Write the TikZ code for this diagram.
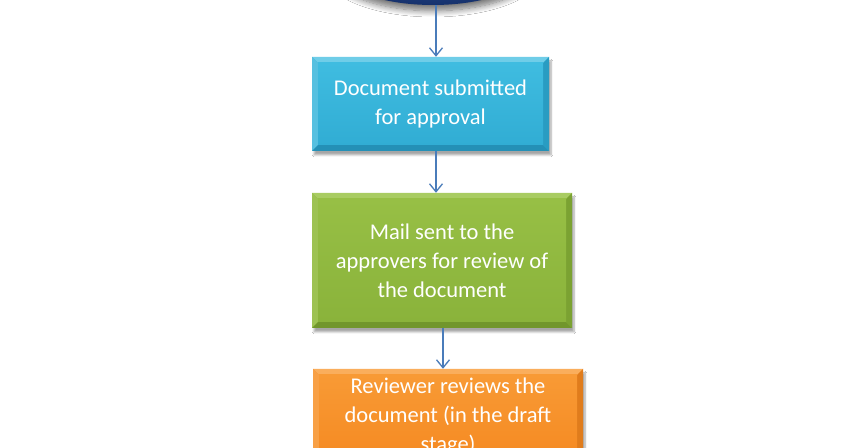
\documentclass[tikz,border=0pt]{standalone}
\usepackage{fontspec}
\setmainfont{Carlito}
\usetikzlibrary{arrows.meta,shadows.blur,calc,shapes.geometric}
\definecolor{cyanlight}{HTML}{6FCDE8}
\definecolor{cyanbase}{HTML}{31ADD4}
\definecolor{cyantop}{HTML}{3FBCE0}
\definecolor{cyandark}{HTML}{2490B6}
\definecolor{greenlight}{HTML}{A9CC62}
\definecolor{greenbase}{HTML}{8AB33B}
\definecolor{greentop}{HTML}{97BF45}
\definecolor{greendark}{HTML}{71962C}
\definecolor{orangelight}{HTML}{FAAE5C}
\definecolor{orangebase}{HTML}{F58A22}
\definecolor{orangetop}{HTML}{F89A35}
\definecolor{orangedark}{HTML}{D27318}
\definecolor{navy}{HTML}{16316C}
\definecolor{navyin}{HTML}{2B56A0}
\definecolor{arrowblue}{HTML}{4A7CBA}
\tikzset{
  bevelbox/.style n args={4}{
    rectangle, inner sep=0pt, fill=#2,
    blur shadow={shadow xshift=2pt, shadow yshift=-4pt, shadow blur steps=6, shadow opacity=35},
    path picture={
      \coordinate (pnw) at (path picture bounding box.north west);
      \coordinate (pne) at (path picture bounding box.north east);
      \coordinate (psw) at (path picture bounding box.south west);
      \coordinate (pse) at (path picture bounding box.south east);
      \fill[#1] (pnw) -- (pne) -- ($(pne)+(-6,-6)$) -- ($(pnw)+(6,-6)$) -- cycle;
      \fill[#1!60!#2] (pnw) -- ($(pnw)+(6,-6)$) -- ($(psw)+(6,6)$) -- (psw) -- cycle;
      \fill[#3] (psw) -- ($(psw)+(6,6)$) -- ($(pse)+(-6,6)$) -- (pse) -- cycle;
      \fill[#3!60!#2] (pse) -- ($(pse)+(-6,6)$) -- ($(pne)+(-6,-6)$) -- (pne) -- cycle;
      \shade[top color=#4, bottom color=#2] ($(pnw)+(6,-6)$) rectangle ($(pse)+(-6,6)$);
    },
    text=white, align=center, font=\fontsize{22.5}{29}\selectfont
  },
  arr/.style={draw=arrowblue, line width=1.3pt, -{Straight Barb[length=8pt,width=13pt,line width=1.3pt]}}
}
\begin{document}
\begin{tikzpicture}[x=1pt,y=1pt]
\useasboundingbox (0,0) rectangle (851,447);
\fill[white] (0,0) rectangle (851,447);
\node[ellipse, minimum width=200, minimum height=80, inner color=navyin, outer color=navy,
      blur shadow={shadow xshift=0pt, shadow yshift=-4pt, shadow scale=1.04, shadow blur steps=10, shadow blur radius=6pt, shadow opacity=55}]
      (start) at (433,482) {};
\node[bevelbox={cyanlight}{cyanbase}{cyandark}{cyantop}, minimum width=237, minimum height=94]
      (b1) at (430.5,343) {Document submitted\\for approval};
\node[bevelbox={greenlight}{greenbase}{greendark}{greentop}, minimum width=260, minimum height=135]
      (b2) at (442,186.5) {Mail sent to the\\approvers for review of\\the document};
\node[bevelbox={orangelight}{orangebase}{orangedark}{orangetop}, minimum width=270, minimum height=96]
      (b3) at (448,30) {Reviewer reviews the\\document (in the draft\\stage)};
\coordinate (ax) at (436,0);
\coordinate (bx) at (443,0);
\draw[arr] (start.south -| ax) -- (b1.north -| ax);
\draw[arr] (b1.south -| ax) -- (b2.north -| ax);
\draw[arr] (b2.south -| bx) -- (b3.north -| bx);
\end{tikzpicture}
\end{document}
